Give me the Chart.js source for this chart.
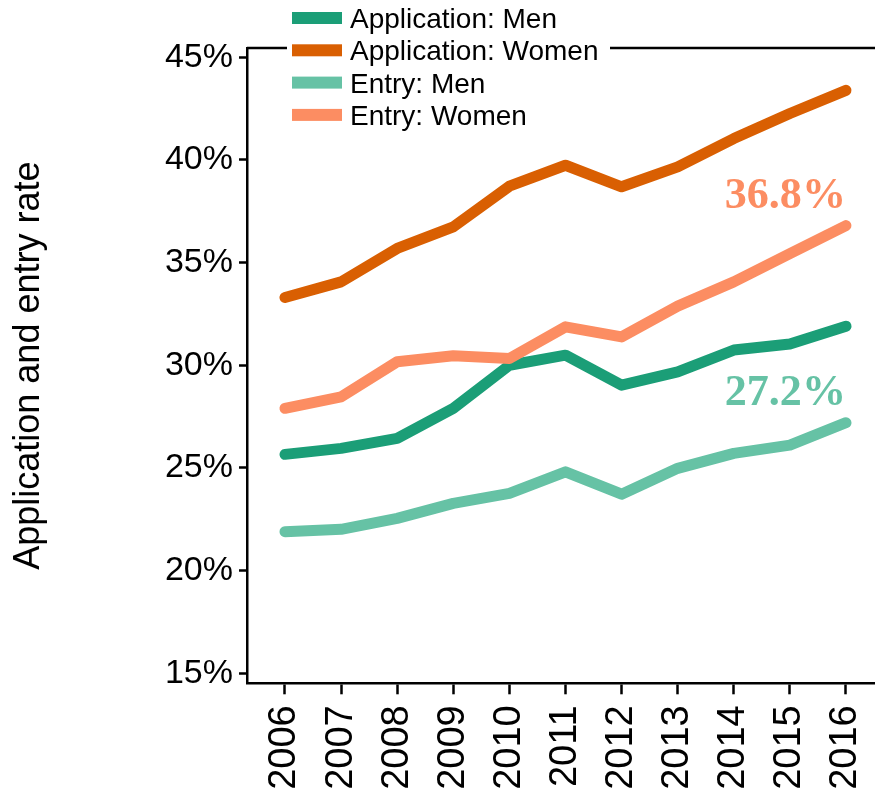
<!DOCTYPE html>
<html>
<head>
<meta charset="utf-8">
<script src="https://cdn.jsdelivr.net/npm/chart.js@4.4.1/dist/chart.umd.min.js"></script>
<style>
  html, body { margin: 0; padding: 0; background: #fff; }
  #wrap { width: 875px; height: 790px; position: relative; }
</style>
</head>
<body>
<div id="wrap"><canvas id="rateChart"></canvas></div>
<script>
// ---- data ----
const years = [2006, 2007, 2008, 2009, 2010, 2011, 2012, 2013, 2014, 2015, 2016];

const appMen     = [25.66, 25.95, 26.44, 27.90, 30.00, 30.49, 29.03, 29.68, 30.74, 31.03, 31.90];
const appWomen   = [33.30, 34.06, 35.69, 36.74, 38.72, 39.74, 38.69, 39.66, 41.04, 42.26, 43.39];
const entryMen   = [21.89, 22.01, 22.54, 23.27, 23.76, 24.81, 23.72, 24.98, 25.71, 26.11, 27.20];
const entryWomen = [27.90, 28.46, 30.17, 30.46, 30.33, 31.87, 31.38, 32.88, 34.06, 35.44, 36.80];

const seriesLabels = ["Application: Men", "Application: Women", "Entry: Men", "Entry: Women"];
const seriesValues = [appMen, appWomen, entryMen, entryWomen];
const seriesColors = ["#1b9e77", "#d95f02", "#66c2a5", "#fc8d62"];

const yTicks = [15, 20, 25, 30, 35, 40, 45];
const yTitle = "Application and entry rate";

// series that get their last value written above the end of the line
const endLabelSeries = [3, 2];

const SANS = '"Liberation Sans", Arial, Helvetica, sans-serif';
const SERIF = '"Liberation Serif", "Times New Roman", serif';

// top frame line, hand-placed legend, end-of-line value labels
const decorPlugin = {
  id: "decor",
  beforeDatasetsDraw(chart) {
    const { ctx, chartArea } = chart;
    ctx.save();
    ctx.strokeStyle = "#000";
    ctx.lineWidth = 2.5;
    ctx.beginPath();
    ctx.moveTo(chartArea.left, chartArea.top);
    ctx.lineTo(chartArea.right, chartArea.top);
    ctx.stroke();
    ctx.restore();
  },
  afterDraw(chart) {
    const { ctx } = chart;
    ctx.save();

    // legend (white box sits over the frame line)
    ctx.fillStyle = "#fff";
    ctx.fillRect(287, 0, 323, 130);
    chart.data.datasets.forEach((ds, i) => {
      const cy = 18 + i * 32.3;
      ctx.fillStyle = ds.borderColor;
      ctx.fillRect(292, cy - 6, 50, 12);
      ctx.fillStyle = "#000";
      ctx.font = "28px " + SANS;
      ctx.textAlign = "left";
      ctx.textBaseline = "alphabetic";
      ctx.fillText(ds.label, 350, cy + 10);
    });

    // value labels at the end of two lines
    endLabelSeries.forEach((idx) => {
      const meta = chart.getDatasetMeta(idx);
      const pts = meta.data;
      const last = pts[pts.length - 1];
      const vals = chart.data.datasets[idx].data;
      const txt = vals[vals.length - 1].y.toFixed(1) + "%";
      ctx.save();
      ctx.translate(last.x, last.y - 18);
      ctx.scale(0.98, 1);
      ctx.fillStyle = chart.data.datasets[idx].borderColor;
      ctx.font = "bold 45px " + SERIF;
      ctx.textAlign = "right";
      ctx.textBaseline = "alphabetic";
      ctx.fillText(txt, 0, 0);
      ctx.restore();
    });

    ctx.restore();
  },
};

const datasets = seriesLabels.map((label, i) => ({
  label,
  data: years.map((yr, j) => ({ x: yr, y: seriesValues[i][j] })),
  borderColor: seriesColors[i],
  backgroundColor: seriesColors[i],
  borderWidth: 11,
  borderCapStyle: "round",
  borderJoinStyle: "round",
  pointRadius: 0,
  tension: 0,
  fill: false,
  order: seriesLabels.length - i,
}));

const ctx = document.getElementById("rateChart").getContext("2d");
new Chart(ctx, {
  type: "line",
  data: { datasets },
  options: {
    responsive: true,
    maintainAspectRatio: false,
    animation: false,
    layout: { padding: { top: 48, left: 0, right: 0, bottom: 0 } },
    plugins: {
      legend: { display: false },
      tooltip: { enabled: false },
    },
    scales: {
      x: {
        type: "linear",
        min: 2005.323,
        max: 2016.517,
        afterBuildTicks: (scale) => { scale.ticks = years.map(v => ({ value: v })); },
        afterFit: (scale) => {
          scale.height = 106.7;
          scale.paddingLeft = 0;
          scale.paddingRight = 0;
        },
        ticks: {
          autoSkip: false,
          minRotation: 90,
          maxRotation: 90,
          padding: 11,
          color: "#000",
          font: { family: SANS, size: 38 },
          callback: (v) => String(v),
        },
        grid: {
          drawOnChartArea: false,
          drawTicks: true,
          tickLength: 11,
          tickWidth: 2.5,
          tickColor: "#000",
        },
        border: { display: true, color: "#000", width: 2.5 },
      },
      y: {
        type: "linear",
        min: 14.51,
        max: 45.45,
        afterBuildTicks: (scale) => { scale.ticks = yTicks.map(v => ({ value: v })); },
        afterFit: (scale) => {
          scale.width = 247;
          scale.paddingTop = 0;
          scale.paddingBottom = 0;
        },
        ticks: {
          padding: 6,
          color: "#000",
          font: { family: SANS, size: 34 },
          callback: (v) => v + "%",
        },
        grid: {
          drawOnChartArea: false,
          drawTicks: true,
          tickLength: 8,
          tickWidth: 2.5,
          tickColor: "#000",
        },
        border: { display: true, color: "#000", width: 2.5 },
        title: {
          display: true,
          text: yTitle,
          color: "#000",
          font: { family: SANS, size: 36 },
          padding: { top: 7, bottom: 0 },
        },
      },
    },
  },
  plugins: [decorPlugin],
});
</script>
</body>
</html>
